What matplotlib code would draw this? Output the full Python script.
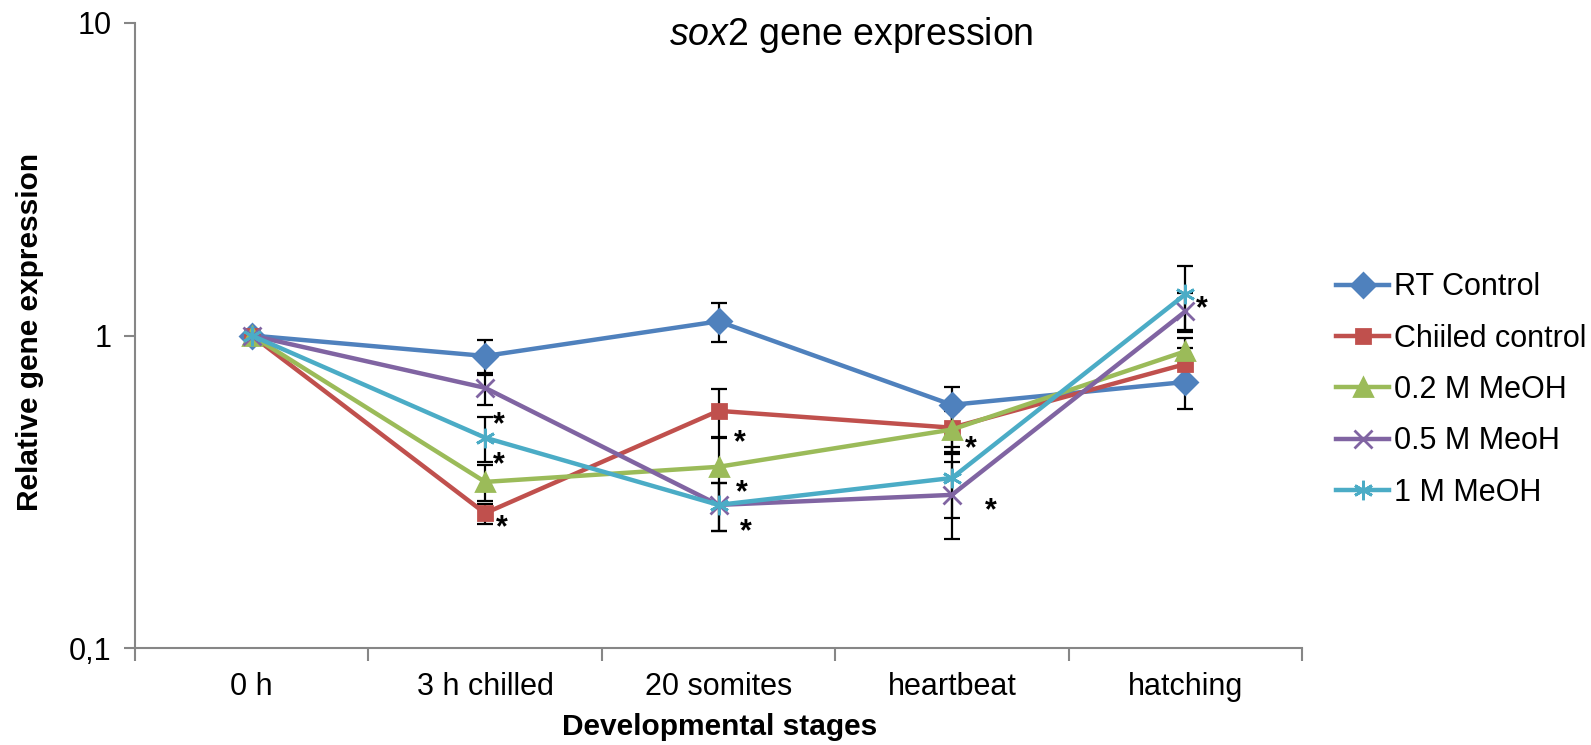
import numpy as np
import matplotlib
matplotlib.use('Agg')
import matplotlib.pyplot as plt
from matplotlib.ticker import FixedLocator, NullLocator, FixedFormatter

plt.rcParams['font.family'] = ['Liberation Sans', 'DejaVu Sans']
plt.rcParams['mathtext.fontset'] = 'custom'
plt.rcParams['mathtext.rm'] = 'Liberation Sans'
plt.rcParams['mathtext.it'] = 'Liberation Sans:italic'

# data
stages = ['0 h', '3 h chilled', '20 somites', 'heartbeat', 'hatching']
series_names = ['RT Control', 'Chiiled control', '0.2 M MeOH', '0.5 M MeoH', '1 M MeOH']

rt_control = [1.0, 0.86, 1.11, 0.60, 0.71]
rt_err = [0.0, 0.11, 0.16, 0.085, 0.128]
chilled = [1.0, 0.27, 0.574, 0.507, 0.81]
chilled_err = [0.0, 0.02, 0.10, 0.09, 0.10]
meoh_02 = [1.0, 0.34, 0.38, 0.50, 0.89]
meoh_02_err = [0.0, 0.045, 0.09, 0.075, 0.09]
meoh_05 = [1.0, 0.68, 0.287, 0.309, 1.194]
meoh_05_err = [0.0, 0.08, 0.05, 0.085, 0.17]
meoh_1 = [1.0, 0.471, 0.287, 0.35, 1.354]
meoh_1_err = [0.0, 0.076, 0.05, 0.09, 0.31]

# significance asterisks (stage position, y value)
sig_x = [1.06, 1.06, 1.07, 2.09, 2.10, 2.115, 3.08, 3.165, 4.07]
sig_y = [0.5495, 0.409, 0.2585, 0.481, 0.3324, 0.251, 0.460, 0.291, 1.295]

colors = ['#4F81BD', '#C0504D', '#9BBB59', '#8064A2', '#4BACC6']
markers = ['D', 's', '^', 'x', (6, 2, 0)]
msizes = [12, 10.5, 13, 13, 14]
values = [rt_control, chilled, meoh_02, meoh_05, meoh_1]
errors = [rt_err, chilled_err, meoh_02_err, meoh_05_err, meoh_1_err]

fig = plt.figure(figsize=(15.91, 7.45), dpi=100)
ax = fig.add_axes([135 / 1591, 1 - 648 / 745, (1302 - 135) / 1591, (648 - 23) / 745])

x = np.arange(len(stages))
for i in range(5):
    v = np.array(values[i])
    e = np.array(errors[i])
    ax.errorbar(x[1:], v[1:], yerr=e[1:], fmt='none', ecolor='black',
                elinewidth=1.6, capsize=6, capthick=1.6, zorder=2)
for i in range(5):
    ax.plot(x, values[i], color=colors[i], lw=3.2, marker=markers[i],
            markersize=msizes[i], markeredgewidth=2, markeredgecolor=colors[i],
            markerfacecolor=colors[i], label=series_names[i], zorder=3 + i)

for sx, sy in zip(sig_x, sig_y):
    ax.annotate('*', (sx, sy), xytext=(0, -12), textcoords='offset points',
                ha='center', va='baseline', fontsize=22, fontweight='bold')

ax.set_yscale('log')
ax.set_ylim(0.1, 10)
ax.set_xlim(-0.5, 4.5)
ax.yaxis.set_major_locator(FixedLocator([0.1, 1, 10]))
ax.yaxis.set_major_formatter(FixedFormatter(['0,1', '1', '10']))
ax.yaxis.set_minor_locator(NullLocator())
ax.tick_params(axis='y', which='major', direction='out', length=8, width=1.5,
               color='#868686', labelsize=22, pad=9)

ax.set_xticks(np.arange(-0.5, 5, 1.0))
ax.set_xticklabels([])
ax.set_xticks(x, minor=True)
ax.set_xticklabels(stages, minor=True)
ax.tick_params(axis='x', which='major', direction='out', length=9, width=1.5, color='#868686')
ax.tick_params(axis='x', which='minor', length=0, labelsize=22, pad=17)

for s in ['top', 'right']:
    ax.spines[s].set_visible(False)
for s in ['left', 'bottom']:
    ax.spines[s].set_color('#868686')
    ax.spines[s].set_linewidth(1.5)

fig.text(851 / 1591, 1 - 35 / 745, r'$\mathit{sox2}$ gene expression', fontsize=27,
         ha='center', va='center')
fig.text(720 / 1591, 1 - 727 / 745, 'Developmental stages', fontsize=21.5,
         fontweight='bold', ha='center', va='center')
fig.text(30 / 1591, 1 - 332 / 745, 'Relative gene expression', fontsize=21.5,
         fontweight='bold', ha='center', va='center', rotation=90)

fig.legend(loc='center left', bbox_to_anchor=(1336 / 1591, 1 - 390 / 745),
           frameon=False, fontsize=22, handlelength=1.75, handletextpad=0.15,
           labelspacing=0.7, borderaxespad=0, borderpad=0)

fig.savefig('out.png', dpi=100)
